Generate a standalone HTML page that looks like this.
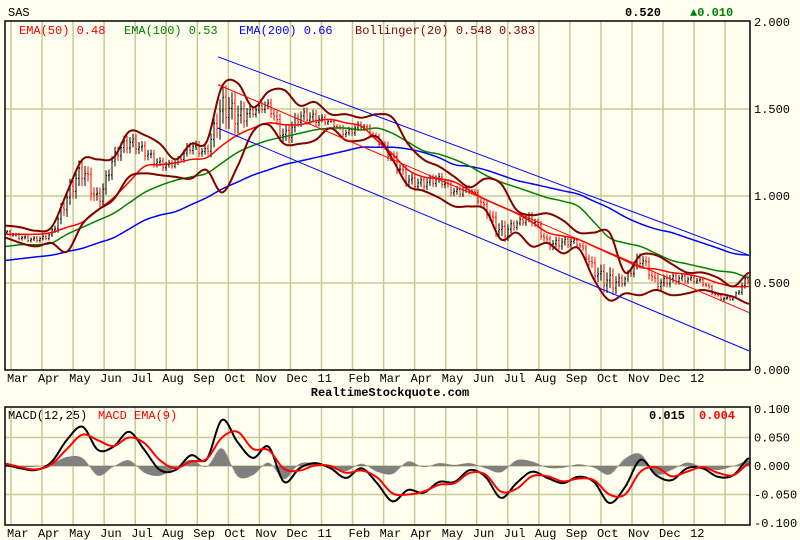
<!DOCTYPE html>
<html><head><meta charset="utf-8"><style>
body{margin:0;background:#ffffef;}
svg{display:block;font-family:"Liberation Mono",monospace;font-size:12px;}
</style></head><body>
<svg id="c" width="800" height="540" viewBox="0 0 800 540"></svg>
<script>
const monthLabels=["Mar","Apr","May","Jun","Jul","Aug","Sep","Oct","Nov","Dec","11","Feb","Mar","Apr","May","Jun","Jul","Aug","Sep","Oct","Nov","Dec","12"];
const priceTicks=[2.0,1.5,1.0,0.5,0.0];
const macdTicks=[0.1,0.05,0,-0.05,-0.1];
const close=[0.79,0.76,0.75,0.79,0.98,1.13,0.98,1.21,1.30,1.25,1.18,1.19,1.28,1.26,1.49,1.45,1.48,1.51,1.34,1.45,1.44,1.42,1.36,1.40,1.32,1.21,1.09,1.07,1.09,1.02,1.03,0.92,0.79,0.84,0.86,0.73,0.73,0.72,0.57,0.50,0.52,0.63,0.50,0.52,0.52,0.50,0.42,0.42,0.53];
const ema50=[0.78,0.78,0.78,0.79,0.82,0.85,0.92,0.99,1.08,1.17,1.18,1.19,1.21,1.22,1.29,1.35,1.39,1.42,1.41,1.41,1.43,1.44,1.42,1.40,1.32,1.24,1.15,1.11,1.10,1.08,1.03,0.98,0.94,0.90,0.85,0.79,0.77,0.75,0.71,0.67,0.63,0.59,0.58,0.56,0.55,0.53,0.50,0.48,0.48];
const ema100=[0.71,0.72,0.72,0.73,0.78,0.82,0.86,0.90,0.96,1.02,1.06,1.09,1.11,1.13,1.19,1.25,1.29,1.32,1.34,1.36,1.38,1.39,1.39,1.38,1.39,1.36,1.31,1.26,1.24,1.21,1.17,1.12,1.08,1.05,1.02,0.99,0.97,0.94,0.85,0.76,0.73,0.71,0.67,0.63,0.61,0.59,0.57,0.56,0.53];
const ema200=[0.63,0.64,0.65,0.66,0.68,0.70,0.73,0.76,0.81,0.86,0.89,0.91,0.95,0.99,1.04,1.08,1.12,1.15,1.18,1.20,1.22,1.24,1.26,1.28,1.28,1.28,1.27,1.25,1.22,1.18,1.17,1.15,1.12,1.09,1.07,1.05,1.03,1.01,0.97,0.93,0.88,0.84,0.81,0.79,0.76,0.73,0.70,0.67,0.66];
const bbUpper=[0.83,0.82,0.80,0.82,1.02,1.21,1.21,1.22,1.37,1.35,1.30,1.21,1.30,1.31,1.63,1.65,1.51,1.60,1.61,1.52,1.54,1.47,1.47,1.45,1.47,1.45,1.30,1.21,1.17,1.11,1.05,1.10,1.07,0.92,0.89,0.90,0.86,0.79,0.79,0.79,0.56,0.66,0.66,0.61,0.56,0.56,0.53,0.48,0.56];
const bbLower=[0.76,0.73,0.71,0.73,0.68,0.84,0.92,0.98,1.11,1.13,1.12,1.11,1.10,1.15,1.02,1.17,1.37,1.41,1.30,1.30,1.32,1.39,1.32,1.32,1.34,1.21,1.06,1.03,0.99,0.94,0.94,0.92,0.75,0.79,0.71,0.73,0.67,0.70,0.52,0.40,0.44,0.43,0.46,0.43,0.44,0.46,0.44,0.42,0.38];
const channelStartT=13.74, channelEndT=48;
const channelUpper=[1.80,0.66], channelMid=[1.64,0.33], channelLower=[1.39,0.11];
const macd=[0.002,-0.004,-0.007,0.007,0.046,0.069,0.028,0.034,0.060,0.028,-0.007,-0.007,0.019,0.011,0.081,0.042,0.014,0.034,-0.028,-0.004,0.005,-0.004,-0.021,-0.004,-0.030,-0.062,-0.042,-0.047,-0.028,-0.028,-0.007,-0.019,-0.056,-0.030,-0.010,-0.021,-0.030,-0.019,-0.028,-0.065,-0.037,0.011,-0.016,-0.025,-0.004,-0.004,-0.019,-0.016,0.014];
const signal=[0.004,-0.002,-0.006,0.003,0.030,0.055,0.045,0.035,0.050,0.040,0.010,-0.004,0.008,0.012,0.050,0.060,0.030,0.028,-0.005,-0.008,0.001,0.000,-0.012,-0.008,-0.020,-0.048,-0.050,-0.045,-0.033,-0.030,-0.012,-0.015,-0.045,-0.040,-0.018,-0.018,-0.027,-0.022,-0.025,-0.050,-0.050,-0.010,-0.002,-0.018,-0.010,-0.002,-0.012,-0.016,0.004];

const NS="http://www.w3.org/2000/svg";
const svg=document.getElementById('c');
const L=5,R=750,PT=21,PB=370,MT=407,MB=525;
const xT=t=>L+t*15.5;
const xM=m=>11+m*31.05;
const yP=v=>PB-v*174;
const yM=v=>466-v*570;
function mk(tag,attrs,parent){const e=document.createElementNS(NS,tag);for(const k in attrs)e.setAttribute(k,attrs[k]);(parent||svg).appendChild(e);return e;}
function txt(s,x,y,fill,anchor,weight){const e=mk('text',{x:x,y:y,fill:fill||'#000','text-anchor':anchor||'start','font-weight':weight||'normal'});e.textContent=s;return e;}
function interp(arr,t){const i=Math.min(Math.floor(t),arr.length-2);const f=t-i;return arr[i]*(1-f)+arr[i+1]*f;}
function smooth(arr,t){const i=Math.min(Math.floor(t),arr.length-2);const f=t-i;
 const p0=arr[Math.max(i-1,0)],p1=arr[i],p2=arr[i+1],p3=arr[Math.min(i+2,arr.length-1)];
 return 0.5*((2*p1)+(-p0+p2)*f+(2*p0-5*p1+4*p2-p3)*f*f+(-p0+3*p1-3*p2+p3)*f*f*f);}
function line(arr,yf,color,w,name){const pts=[];for(let x=L;x<=R;x+=2){const t=Math.min((x-L)/15.5,arr.length-1);pts.push(x+','+yf(smooth(arr,t)).toFixed(1));}
 const p=mk('polyline',{points:pts.join(' '),fill:'none',stroke:color,'stroke-width':w,'stroke-linejoin':'round'});return p;}

let pm=mk('rect',{x:L,y:PT,width:R-L,height:PB-PT,fill:'#ffffef',stroke:'none'});

let mp=mk('rect',{x:L,y:MT,width:R-L,height:MB-MT,fill:'#ffffef',stroke:'none'});

const grid=mk('g',{stroke:'#c8c896','stroke-width':1.5});

monthLabels.forEach((lab,m)=>{const x=xM(m);
 mk('line',{x1:x,y1:PT,x2:x,y2:PB},grid);mk('line',{x1:x,y1:MT,x2:x,y2:MB},grid);
 let a=txt(lab,x-4,382);
 let b=txt(lab,x-4,537);});
mk('line',{x1:xM(23),y1:PT,x2:xM(23),y2:PB},grid);mk('line',{x1:xM(23),y1:MT,x2:xM(23),y2:MB},grid);
priceTicks.forEach(v=>{const y=yP(v);if(v>0&&v<2)mk('line',{x1:L,y1:y,x2:R,y2:y},grid);
 let t=txt(v.toFixed(3),754,y+4);});
macdTicks.forEach(v=>{const y=yM(v);if(Math.abs(v)<0.09)mk('line',{x1:L,y1:y,x2:R,y2:y},grid);
 let t=txt(v.toFixed(3),754,y+4);});

const hist=mk('g',{stroke:'#808080','stroke-width':1});

for(let x=L+1;x<R;x+=1){const t=(x-L)/15.5;const h=smooth(macd,t)-smooth(signal,t);mk('line',{x1:x,y1:yM(0),x2:x,y2:yM(h)},hist);}
line(macd,yM,'#000',2,'macd-line');
line(signal,yM,'#ff0000',2,'macd-signal-line');

const bars=mk('g',{'stroke-width':1});

let prev=close[0];let k=0;
for(let x=L+2;x<R;x+=3){const t=(x-L)/15.5;let c=smooth(close,t);const w=(interp(bbUpper,t)-interp(bbLower,t));
 c+= (k%3===0?0.12:(k%3===1?-0.08:0.03))*w; k++;
 const hi=Math.max(prev,c)+w*0.12,lo=Math.min(prev,c)-w*0.12;const col=c>=prev?'#000':'#ff0000';
 const g=mk('g',{stroke:col},bars);mk('line',{x1:x,y1:yP(hi),x2:x,y2:yP(lo)},g);mk('line',{x1:x-1,y1:yP(prev),x2:x,y2:yP(prev)},g);mk('line',{x1:x,y1:yP(c),x2:x+1,y2:yP(c)},g);prev=c;}

line(ema200,yP,'#0000ff',1.5,'ema200-line');
line(ema100,yP,'#008000',1.5,'ema100-line');
line(ema50,yP,'#ff0000',1.5,'ema50-line');
line(bbUpper,yP,'#800000',2,'bollinger-upper');
line(bbLower,yP,'#800000',2,'bollinger-lower');
function chan(arr,col,name){const l=mk('line',{x1:xT(channelStartT),y1:yP(arr[0]),x2:xT(channelEndT),y2:yP(arr[1]),stroke:col,'stroke-width':1});}
chan(channelUpper,'#0000ff','channel-upper');chan(channelLower,'#0000ff','channel-lower');chan(channelMid,'#ff0000','channel-mid');

let b1=mk('rect',{x:L,y:PT,width:R-L,height:PB-PT,fill:'none',stroke:'#000','stroke-width':1.5});

let b2=mk('rect',{x:L,y:MT,width:R-L,height:MB-MT,fill:'none',stroke:'#000','stroke-width':1.5});


let s=txt('SAS',8,16);
let p=txt('0.520',625,16,'#000','start','bold');
let ch=txt('▲0.010',690,16,'#008000','start','bold');
let l1=txt('EMA(50) 0.48',19,34,'#ff0000');
let l2=txt('EMA(100) 0.53',124,34,'#008000');
let l3=txt('EMA(200) 0.66',239,34,'#0000ff');
let l4=txt('Bollinger(20) 0.548 0.383',355,34,'#800000');
let wm=txt('RealtimeStockquote.com',390,396,'#000','middle','bold');
let m1=txt('MACD(12,25)',8,419);
let m2=txt('MACD EMA(9)',98,419,'#ff0000');
let m3=txt('0.015',649,419,'#000','start','bold');
let m4=txt('0.004',699,419,'#ff0000','start','bold');
</script>
</body></html>
